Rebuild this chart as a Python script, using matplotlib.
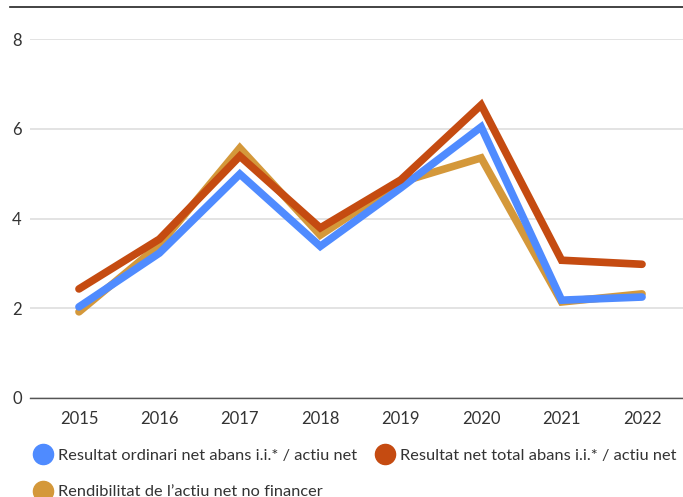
import numpy as np
import matplotlib.pyplot as plt
from matplotlib.lines import Line2D

#---------data-------------------------------
years = [2015, 2016, 2017, 2018, 2019, 2020, 2021, 2022]
ordinari = [2.03, 3.23, 4.99, 3.38, 4.68, 6.04, 2.18, 2.25]
total = [2.43, 3.54, 5.39, 3.79, 4.86, 6.53, 3.07, 2.98]
rendibilitat = [1.92, 3.41, 5.57, 3.63, 4.81, 5.35, 2.14, 2.32]

labels = ["Resultat ordinari net abans i.i.* / actiu net",
          "Resultat net total abans i.i.* / actiu net",
          "Rendibilitat de l\u2019actiu net no financer"]
colors = ["#4f8bff", "#c54b11", "#d4983a"]

plt.rcParams['font.family'] = ['Lato', 'DejaVu Sans']

fig = plt.figure(figsize=(6.83, 4.97), dpi=100)
ax = fig.add_axes([30/683, 1 - 398/497, 653/683, (398-39)/497])

lw = 5.5
ax.plot(years, rendibilitat, color=colors[2], lw=lw, solid_capstyle='round', solid_joinstyle='miter', zorder=3)
ax.plot(years, ordinari, color=colors[0], lw=lw, solid_capstyle='round', solid_joinstyle='miter', zorder=4)
ax.plot(years, total, color=colors[1], lw=lw, solid_capstyle='round', solid_joinstyle='miter', zorder=5)

ax.set_xlim(2015 - 49/80.5, 2022 + 41/80.5)
ax.set_ylim(0, 8)
ax.set_yticks([0, 2, 4, 6, 8])
ax.set_xticks(years)
ax.grid(axis='y', color='#e0e0e0', lw=1.3)
ax.set_axisbelow(True)
for s in ax.spines.values():
  s.set_visible(False)
ax.spines['bottom'].set_visible(True)
ax.spines['bottom'].set_color('#555555')
ax.spines['bottom'].set_linewidth(1.0)
ax.tick_params(length=0, labelsize=12, colors='#333333')
ax.tick_params(axis='y', pad=6)
ax.tick_params(axis='x', pad=9)

# top rule
fig.add_artist(Line2D([10/683, 1], [1 - 7/497, 1 - 7/497], color='#222222', lw=1.2))

# legend filled row by row: reorder for column-wise filling
order = [0, 2, 1]
handles = [Line2D([], [], marker='o', ls='', markersize=14.5, color=colors[i]) for i in order]
leg = fig.legend(handles, [labels[i] for i in order], loc='upper left',
                 bbox_to_anchor=(25/683, 1 - 440/497),
                 ncol=2, frameon=False, fontsize=11.8, handletextpad=0.3,
                 columnspacing=1.1, labelspacing=1.35, borderpad=0, handlelength=1.2,
                 labelcolor='#333333')

fig.savefig("out.png", dpi=100)
